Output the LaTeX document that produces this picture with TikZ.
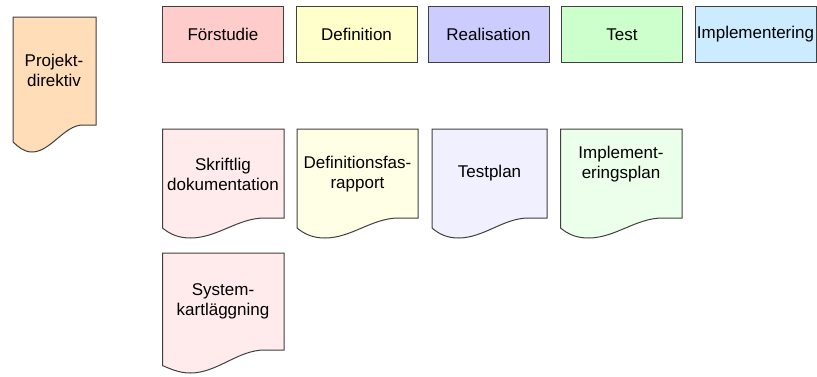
\documentclass[tikz,border=0pt]{standalone}
\usepackage{fontspec}
\setmainfont{Liberation Sans}
\definecolor{edge}{HTML}{404040}
\definecolor{cForst}{HTML}{FFCCCC}
\definecolor{cDef}{HTML}{FFFFCC}
\definecolor{cReal}{HTML}{CCCCFF}
\definecolor{cTest}{HTML}{CCFFCC}
\definecolor{cImpl}{HTML}{CCEBFF}
\definecolor{cDir}{HTML}{FFDDB8}
\definecolor{dForst}{HTML}{FFEBEB}
\definecolor{dDef}{HTML}{FFFFE6}
\definecolor{dReal}{HTML}{F0F0FF}
\definecolor{dTest}{HTML}{EBFFEB}
% document outline: fill, left, top, width, height of right edge, wave depth, left-end fraction
\newcommand\docoutline[7]{%
  \begin{scope}[shift={(#2,#3)}]
    \filldraw[docline, fill=#1] (0,0) -- (#4,0) -- (#4,#5)
      -- ({0.84*#4},#5)
      .. controls ({0.62*#4},#5) and ({0.45*#4},{#5+#6}) .. ({0.23*#4},{#5+#6})
      .. controls ({0.13*#4},{#5+#6}) and ({0.06*#4},{#5+0.8*#6}) .. (0,{#5+#7*#6})
      -- cycle;
  \end{scope}}
\begin{document}
\begin{tikzpicture}[x=1pt,y=-1pt,
  docline/.style={draw=edge, line width=1pt, line join=miter},
  phase/.style={draw=edge, line width=1pt, minimum width=121pt, minimum height=56pt,
    inner sep=0pt, font=\fontsize{17}{20}\selectfont},
  label/.style={align=center, inner sep=0pt, font=\fontsize{17}{20}\selectfont}]
\useasboundingbox[fill=white] (0,0) rectangle (817,376);

% phase boxes
\node[phase, fill=cForst] (forstudie) at (223,34.5) {Förstudie};
\node[phase, fill=cDef]   (definition) at (356.5,34.5) {Definition};
\node[phase, fill=cReal]  (realisation) at (488.5,34.5) {Realisation};
\node[phase, fill=cTest]  (test) at (622,34.5) {Test};
\node[phase, fill=cImpl]  (implementering) at (755.5,34.5) {Implementering};

% documents
\docoutline{cDir}{13}{17}{83}{108}{27}{0.63}
\node[label] (direktiv) at (54,70) {Projekt-\\direktiv};

\docoutline{dForst}{162.5}{129}{121.5}{89}{20}{0.5}
\node[label] (skriftlig) at (223,174) {Skriftlig\\dokumentation};

\docoutline{dDef}{297}{129}{121}{89}{20}{0.5}
\node[label] (defrapport) at (357.5,174) {Definitionsfas-\\rapport};

\docoutline{dReal}{432}{129}{115}{89}{20}{0.5}
\node[label] (testplan) at (489.5,173) {Testplan};

\docoutline{dTest}{560.5}{129}{121.5}{89}{20}{0.5}
\node[label] (implplan) at (621,164) {Implement-\\eringsplan};

\docoutline{dForst}{162.5}{253}{121.5}{97}{23}{0.68}
\node[label] (systemkart) at (223,301) {System-\\kartläggning};
\end{tikzpicture}
\end{document}
